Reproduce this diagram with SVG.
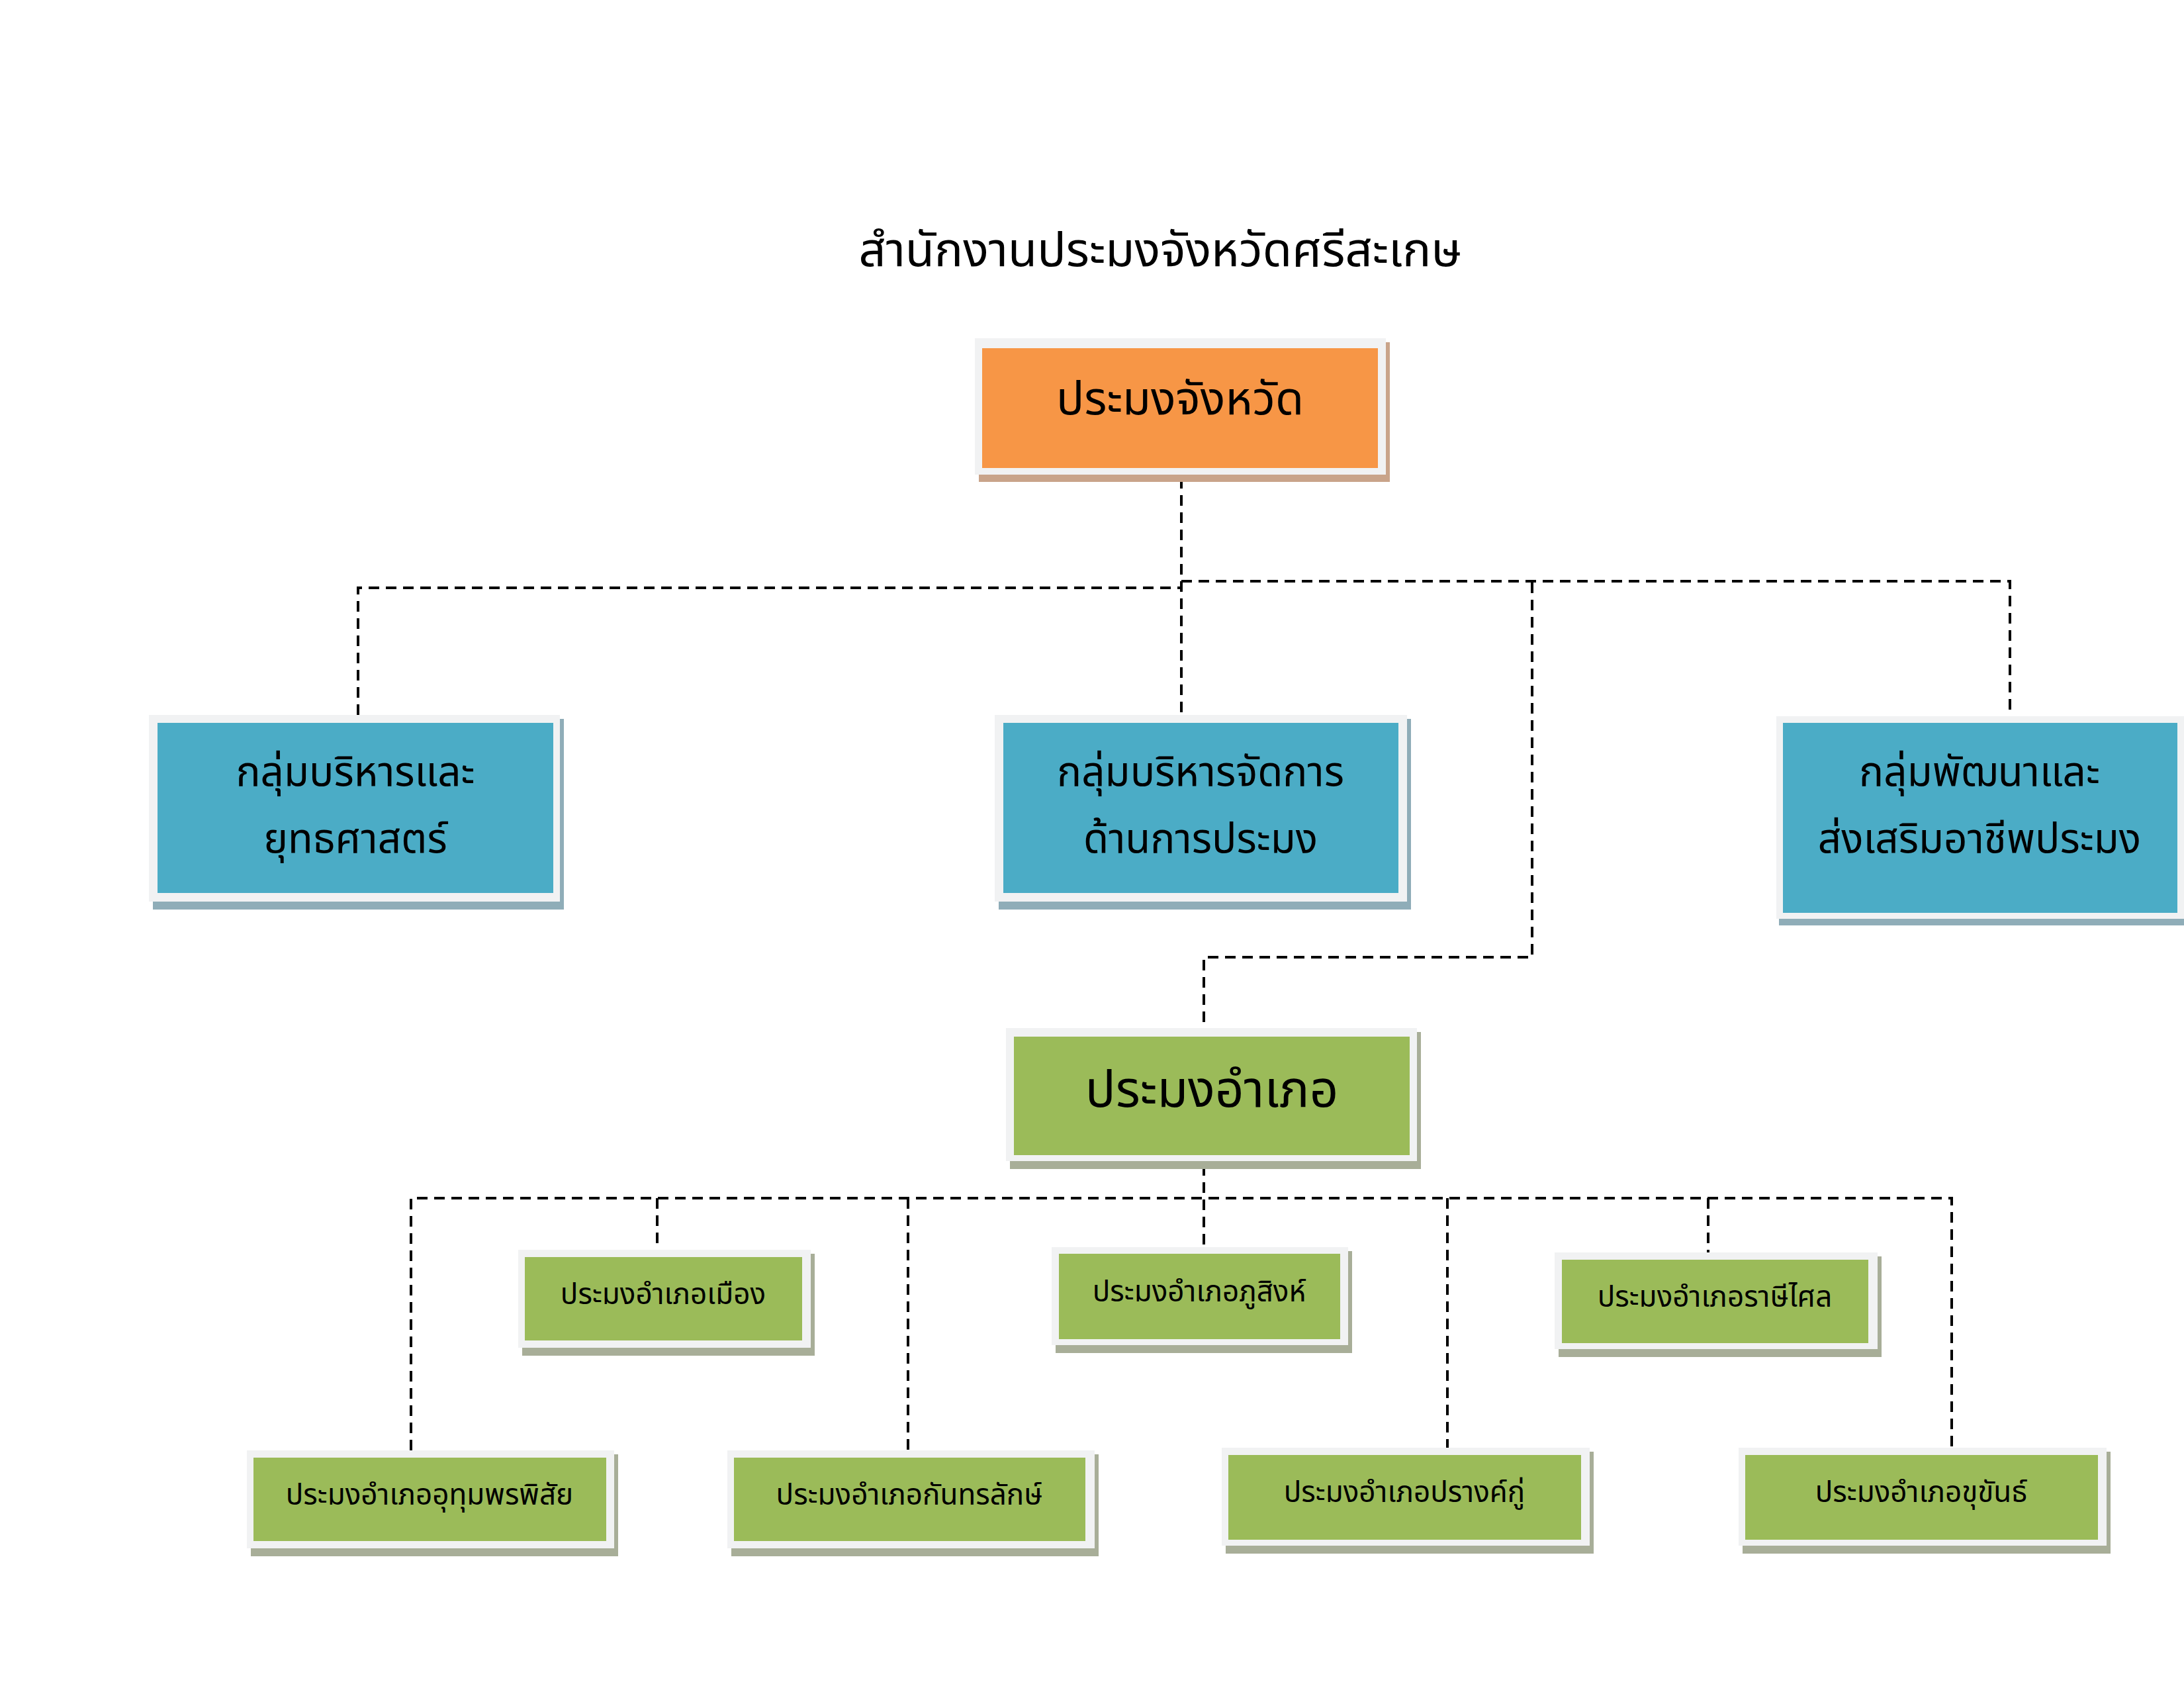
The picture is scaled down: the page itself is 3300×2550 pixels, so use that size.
<svg xmlns="http://www.w3.org/2000/svg" width="3300" height="2550" viewBox="0 0 3300 2550">
<style>
text{font-family:"Noto Sans Thai","Noto Sans","DejaVu Sans",sans-serif;fill:#000;text-anchor:middle;dominant-baseline:central}
.fr{fill:#f1f2f3}
.or{fill:#f79646}.bl{fill:#4bacc6}.gr{fill:#9bbb59}
.so{fill:#c9a48a}.sb{fill:#8fadb8}.sg{fill:#a8ae98}
.c{fill:none;stroke:#000;stroke-width:4;stroke-dasharray:16 10}
.t1{font-size:70px}.t2{font-size:62px}.t3{font-size:76px}.t4{font-size:44px}
</style>
<rect width="3300" height="2550" fill="#fff"/>
<text x="1753" y="380" font-size="72">สำนักงานประมงจังหวัดศรีสะเกษ</text>
<g id="connectors">
<path class="c" d="M1785 722V1080M541 1080V888H1785M1785 878H3037V1080M2315 880V1446H1819V1553"/>
<path class="c" d="M1819 1760V1884M621 2191V1810H2949V2187M993 1810V1888M2581 1810V1892M1372 1810V2191M2187 1810V2187"/>
</g>
<g id="n-province"><rect class="so" x="1479" y="517" width="621" height="211"/><rect class="fr" x="1473" y="511" width="621" height="206"/><rect class="or" x="1484" y="526" width="598" height="181"/><text class="t1" x="1783" y="605">ประมงจังหวัด</text></g>
<g id="n-admin"><rect class="sb" x="231" y="1086" width="621" height="288"/><rect class="fr" x="225" y="1080" width="621" height="282"/><rect class="bl" x="238" y="1092" width="598" height="257"/><text class="t2" x="537" y="1168">กลุ่มบริหารและ</text><text class="t2" x="537" y="1269">ยุทธศาสตร์</text></g>
<g id="n-manage"><rect class="sb" x="1509" y="1086" width="623" height="288"/><rect class="fr" x="1503" y="1080" width="623" height="282"/><rect class="bl" x="1516" y="1092" width="597" height="257"/><text class="t2" x="1814" y="1168">กลุ่มบริหารจัดการ</text><text class="t2" x="1814" y="1269">ด้านการประมง</text></g>
<g id="n-dev"><rect class="sb" x="2688" y="1088" width="612" height="310"/><rect class="fr" x="2684" y="1082" width="616" height="306"/><rect class="bl" x="2694" y="1092" width="596" height="287"/><text class="t2" x="2991" y="1168">กลุ่มพัฒนาและ</text><text class="t2" x="2991" y="1269">ส่งเสริมอาชีพประมง</text></g>
<g id="n-district"><rect class="sg" x="1526" y="1559" width="621" height="207"/><rect class="fr" x="1520" y="1553" width="621" height="201"/><rect class="gr" x="1532" y="1566" width="598" height="179"/><text class="t3" x="1831" y="1648">ประมงอำเภอ</text></g>
<g id="n-mueang"><rect class="sg" x="789" y="1894" width="442" height="154"/><rect class="fr" x="783" y="1888" width="442" height="148"/><rect class="gr" x="793" y="1899" width="419" height="126"/><text class="t4" x="1002" y="1956">ประมงอำเภอเมือง</text></g>
<g id="n-phusing"><rect class="sg" x="1595" y="1890" width="448" height="154"/><rect class="fr" x="1589" y="1884" width="448" height="148"/><rect class="gr" x="1600" y="1894" width="425" height="129"/><text class="t4" x="1812" y="1952">ประมงอำเภอภูสิงห์</text></g>
<g id="n-rasi"><rect class="sg" x="2355" y="1898" width="488" height="152"/><rect class="fr" x="2349" y="1892" width="488" height="146"/><rect class="gr" x="2360" y="1903" width="463" height="126"/><text class="t4" x="2591" y="1960">ประมงอำเภอราษีไศล</text></g>
<g id="n-uthumphon"><rect class="sg" x="379" y="2197" width="555" height="154"/><rect class="fr" x="373" y="2191" width="555" height="148"/><rect class="gr" x="383" y="2202" width="533" height="126"/><text class="t4" x="649" y="2259">ประมงอำเภออุทุมพรพิสัย</text></g>
<g id="n-kanthara"><rect class="sg" x="1105" y="2197" width="555" height="154"/><rect class="fr" x="1099" y="2191" width="555" height="148"/><rect class="gr" x="1109" y="2202" width="531" height="126"/><text class="t4" x="1374" y="2259">ประมงอำเภอกันทรลักษ์</text></g>
<g id="n-prangku"><rect class="sg" x="1852" y="2193" width="556" height="154"/><rect class="fr" x="1846" y="2187" width="556" height="148"/><rect class="gr" x="1856" y="2198" width="533" height="128"/><text class="t4" x="2122" y="2255">ประมงอำเภอปรางค์กู่</text></g>
<g id="n-khukhan"><rect class="sg" x="2633" y="2193" width="556" height="154"/><rect class="fr" x="2627" y="2187" width="556" height="148"/><rect class="gr" x="2637" y="2198" width="533" height="128"/><text class="t4" x="2903" y="2255">ประมงอำเภอขุขันธ์</text></g>
</svg>
